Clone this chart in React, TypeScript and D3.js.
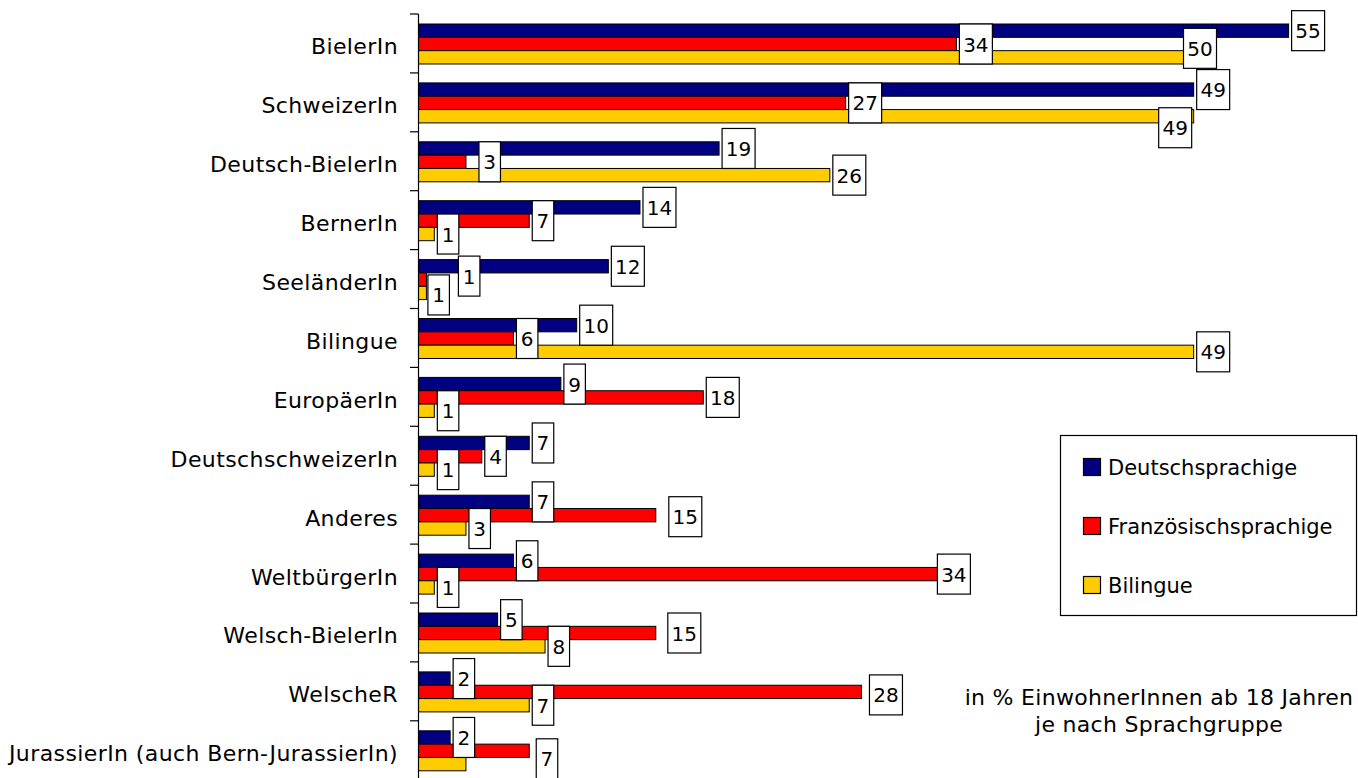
import * as d3 from 'd3'

const categories = [
  'BielerIn',
  'SchweizerIn',
  'Deutsch-BielerIn',
  'BernerIn',
  'SeeländerIn',
  'Bilingue',
  'EuropäerIn',
  'DeutschschweizerIn',
  'Anderes',
  'WeltbürgerIn',
  'Welsch-BielerIn',
  'WelscheR',
  'JurassierIn (auch Bern-JurassierIn)',
]

const seriesNames = ['Deutschsprachige', 'Französischsprachige', 'Bilingue']
const seriesColors = ['#000080', '#ff0000', '#ffcc00']

const deutsch = [55, 49, 19, 14, 12, 10, 9, 7, 7, 6, 5, 2, 2]
const franz = [34, 27, 3, 7, 0.5, 6, 18, 4, 15, 34, 15, 28, 7]
const bilingue = [50, 49, 26, 1, 0.5, 49, 1, 1, 3, 1, 8, 7, 3]

const noteLines = ['in % EinwohnerInnen ab 18 Jahren', 'je nach Sprachgruppe']

// hand-placed data labels (offsets from the default outside-end spot)
const labelNudge: { c: number; s: number; dx: number; dy: number; hide?: boolean }[] = [
  { c: 0, s: 2, dx: -29, dy: -9 },
  { c: 1, s: 2, dx: -38, dy: 11.5 },
  { c: 2, s: 1, dx: 10, dy: 0 },
  { c: 4, s: 1, dx: 29, dy: -3.5 },
  { c: 4, s: 2, dx: -1.5, dy: 2 },
  { c: 8, s: 1, dx: 10, dy: 1.5 },
  { c: 9, s: 1, dx: -22, dy: 0 },
  { c: 10, s: 1, dx: 9, dy: 0 },
  { c: 11, s: 1, dx: 5, dy: 3 },
  { c: 12, s: 1, dx: 4, dy: 8 },
  { c: 12, s: 2, dx: 0, dy: 0, hide: true },
]

const W = 1358
const H = 778
const FONT = '"DejaVu Sans", Verdana, sans-serif'

export default function App() {
  const values = [deutsch, franz, bilingue]
  const bandH = 58.9
  const top = 14

  const x = d3.scaleLinear().domain([0, 55]).range([418.5, 418.5 + 55 * 15.82])
  const y = d3.scaleBand<string>()
    .domain(categories)
    .range([top, top + bandH * categories.length])
  const sub = d3.scaleBand<string>().domain(seriesNames).range([0, 40])

  const ticks = d3.range(categories.length + 1).map((i) => top + i * bandH)

  const labels: { key: string; x: number; y: number; w: number; text: string }[] = []
  categories.forEach((cat, c) => {
    values.forEach((vals, s) => {
      const nudge = labelNudge.find((n) => n.c === c && n.s === s)
      if (nudge?.hide) return
      const v = vals[c]
      const text = String(Math.round(v))
      const w = text.length * 11.5 + 10
      const cy = (y(cat) ?? 0) + 10 + (sub(seriesNames[s]) ?? 0) + sub.bandwidth() / 2
      labels.push({
        key: `${c}-${s}`,
        x: x(v) + 3 + (nudge?.dx ?? 0),
        y: cy + (nudge?.dy ?? 0),
        w,
        text,
      })
    })
  })

  return (
    <svg width={W} height={H} style={{ position: 'absolute', left: 0, top: 0, background: '#fff' }} fontFamily={FONT}>
      {/* category labels */}
      {categories.map((cat) => (
        <text
          key={cat}
          x={398}
          y={(y(cat) ?? 0) + y.bandwidth() / 2 + 11}
          textAnchor="end"
          fontSize={22}
          letterSpacing={0.4}
          fill="#000"
        >
          {cat}
        </text>
      ))}

      {/* bars */}
      {categories.map((cat, c) => (
        <g key={cat} transform={`translate(0,${(y(cat) ?? 0) + 10})`}>
          {values.map((vals, s) => (
            <rect
              key={s}
              x={x(0)}
              y={sub(seriesNames[s])}
              width={x(vals[c]) - x(0)}
              height={sub.bandwidth()}
              fill={seriesColors[s]}
              stroke="#000"
              strokeWidth={1}
            />
          ))}
        </g>
      ))}

      {/* axis */}
      <line x1={418.5} x2={418.5} y1={top} y2={H + 4} stroke="#000" strokeWidth={1.2} />
      {ticks.map((t) => (
        <line key={t} x1={410} x2={418.5} y1={t} y2={t} stroke="#000" strokeWidth={1.2} />
      ))}

      {/* data labels */}
      {labels.map((l) => (
        <g key={l.key}>
          <rect x={l.x} y={l.y - 20} width={l.w} height={40} fill="#fff" stroke="#000" strokeWidth={1.2} />
          <text x={l.x + l.w / 2} y={l.y + 7.5} textAnchor="middle" fontSize={20} fill="#000">
            {l.text}
          </text>
        </g>
      ))}

      {/* legend */}
      <rect x={1060.5} y={435.5} width={296} height={180} fill="#fff" stroke="#000" strokeWidth={1.2} />
      {seriesNames.map((name, i) => (
        <g key={name} transform={`translate(1083,${458 + i * 59})`}>
          <rect x={0.5} y={0.5} width={17} height={17} fill={seriesColors[i]} stroke="#000" strokeWidth={1.2} />
          <text x={25} y={17} fontSize={21} fill="#000">
            {name}
          </text>
        </g>
      ))}

      {/* note */}
      {noteLines.map((line, i) => (
        <text key={line} x={1159} y={705 + i * 27} textAnchor="middle" fontSize={22} letterSpacing={0.3} fill="#000">
          {line}
        </text>
      ))}
    </svg>
  )
}
